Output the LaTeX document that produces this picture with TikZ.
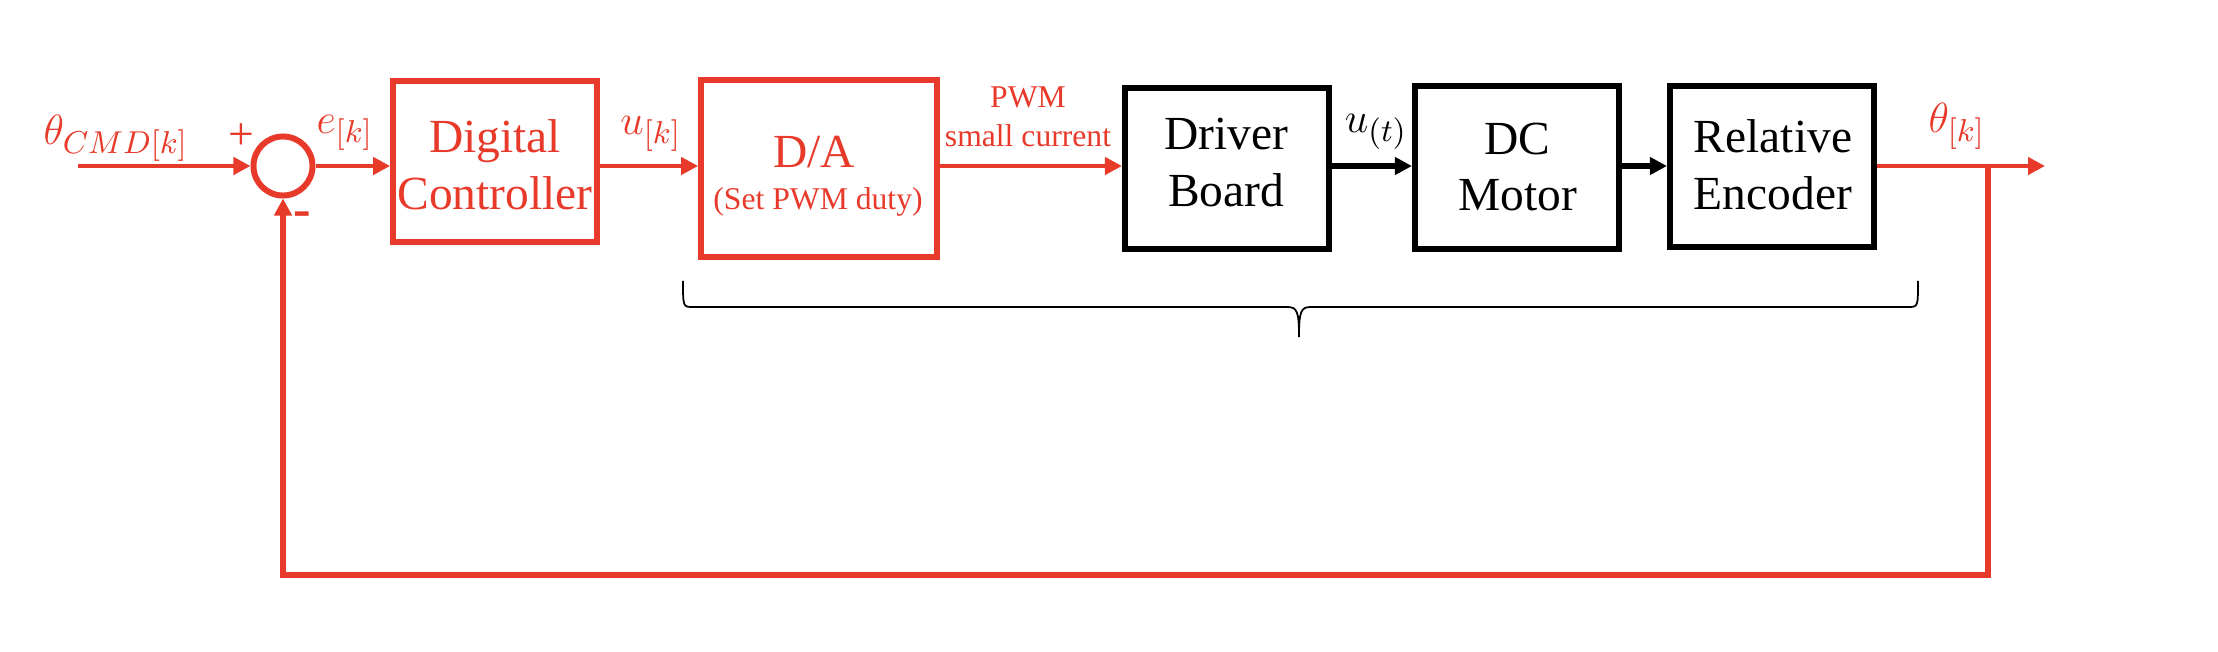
\documentclass[tikz,border=0pt]{standalone}
\usepackage{fontspec}
\setmainfont{Liberation Serif}
\usetikzlibrary{arrows.meta}
\definecolor{myred}{RGB}{232,58,42}
\begin{document}
\begin{tikzpicture}[x=0.01cm,y=-0.01cm,
  boxr/.style={draw=myred, line width=1.6pt, inner sep=0pt},
  boxk/.style={draw=black, line width=1.7pt, inner sep=0pt},
  txt/.style={anchor=base, inner sep=0pt, font=\fontsize{13.5}{15.5}\selectfont},
  sig/.style={line width=1.4pt, line join=miter, -{Triangle[length=0.17cm,width=0.17cm]}},
  lbl/.style={text=myred, inner sep=0pt, font=\fontsize{13}{15}\selectfont},
  smalltxt/.style={text=myred, anchor=base, inner sep=0pt, font=\fontsize{9}{10.8}\selectfont},
  brace/.style={line width=0.5pt, black}]
\useasboundingbox (0,0) rectangle (2218,652);
% summing junction
\node[draw=myred, line width=1.7pt, circle, minimum size=0.59cm, inner sep=0pt] (sum) at (283,166) {};
\coordinate (in) at (78,166);
% blocks
\node[boxr, minimum width=2.04cm, minimum height=1.61cm] (ctrl) at (495,161.5) {};
\node[boxr, minimum width=2.36cm, minimum height=1.77cm] (da) at (819,168.5) {};
\node[boxk, minimum width=2.04cm, minimum height=1.61cm] (drv) at (1227,168.5) {};
\node[boxk, minimum width=2.04cm, minimum height=1.63cm] (mot) at (1517,167.5) {};
\node[boxk, minimum width=2.04cm, minimum height=1.61cm] (enc) at (1772,166.5) {};
% block texts
\node[txt, text=myred] (t1a) at (495,153) {Digital};
\node[txt, text=myred] (t1b) at (495,210) {Controller};
\node[txt, text=myred] (t2a) at (814,168) {D/A};
\node[smalltxt] (t2b) at (818,210) {(Set PWM duty)};
\node[txt] (t3a) at (1226,150) {Driver};
\node[txt] (t3b) at (1226,207) {Board};
\node[txt] (t4a) at (1517,155) {DC};
\node[txt] (t4b) at (1518,211) {Motor};
\node[txt] (t5a) at (1773,153) {Relative};
\node[txt] (t5b) at (1773,210) {Encoder};
% labels
\node[lbl] (lcmd) at (116,138) {$\theta_{CMD[k]}$};
\node[lbl] (lplus) at (241,137) {+};
\node[lbl, font=\fontsize{15}{17}\selectfont\bfseries] (lminus) at (302,219) {-};
\node[lbl] (le) at (345,133) {$e_{[k]}$};
\node[lbl] (lu) at (651,134) {$u_{[k]}$};
\node[smalltxt] (lpwm1) at (1028,108) {PWM};
\node[smalltxt] (lpwm2) at (1028,147) {small current};
\node[lbl, text=black] (lut) at (1376,132) {$u_{(t)}$};
\node[lbl] (lth) at (1957,126) {$\theta_{[k]}$};
% connectors
\draw[sig, myred] (in) -- (sum.west);
\draw[sig, myred] (sum.east) -- (ctrl.west |- sum.east);
\draw[sig, myred] (ctrl.east |- sum.east) -- (da.west |- sum.east);
\draw[sig, myred] (da.east |- sum.east) -- (drv.west |- sum.east);
\draw[sig, black, line width=1.5pt] (drv.east |- sum.east) -- (mot.west |- sum.east);
\draw[sig, black, line width=1.5pt] (mot.east |- sum.east) -- (enc.west |- sum.east);
\coordinate (out) at (2045,166);
\coordinate (br) at (1988,166);
\coordinate (bot) at (283,575);
\draw[sig, myred] (enc.east |- sum.east) -- (out);
\draw[sig, myred, line width=1.6pt] (br) |- (bot) -- (sum.south);
% brace
\draw[brace] (683,281) .. controls (683,307) and (683,307) .. (693,307) -- (1287,307)
  .. controls (1297,307) and (1299,311) .. (1299,337)
  .. controls (1299,311) and (1301,307) .. (1311,307) -- (1908,307)
  .. controls (1918,307) and (1918,307) .. (1918,281);
\end{tikzpicture}
\end{document}
